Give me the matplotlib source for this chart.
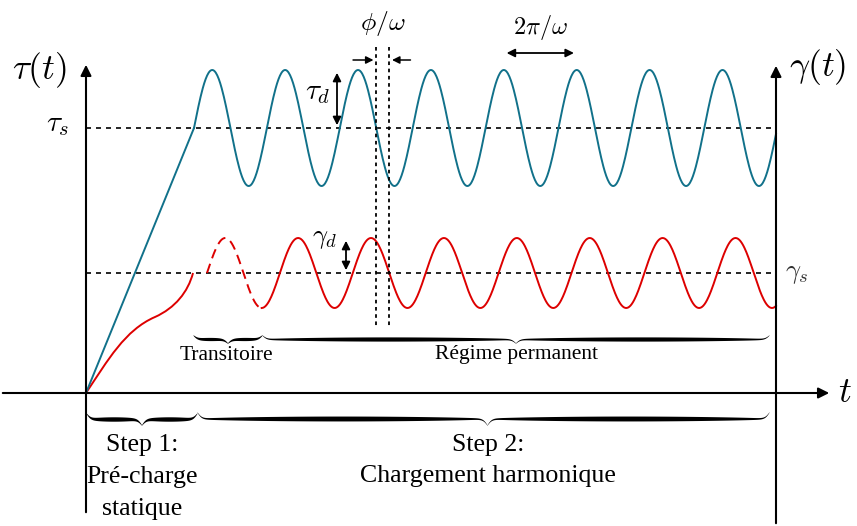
import numpy as np
import matplotlib.pyplot as plt
from matplotlib.path import Path
from matplotlib.patches import PathPatch

plt.rcParams["mathtext.fontset"] = "cm"

# --- schematic values (pixel frame, y down) ---
t_origin = 86          # time origin on the t axis
y_origin = 393
t_pre = 194            # end of static pre-charge
t_end = 776            # end of the drawing (right axis)
period = 72.9          # 2*pi/omega
lag = 13               # phi/omega
tau_s = 128
tau_d = 58
gamma_s = 273
gamma_d = 35

# gamma(t) during the static pre-charge (two cubic bezier pieces)
pre_ctrl_t = [86, 108, 125, 155, 175, 188, 193]
pre_ctrl_gamma = [393, 360, 330, 317, 308, 292, 273]

teal = "#11718a"
red = "#dd0000"
serif = "Liberation Serif"

fig = plt.figure(figsize=(8.57, 5.26), dpi=100)
ax = fig.add_axes([0, 0, 1, 1])
ax.set_xlim(0, 857)
ax.set_ylim(526, 0)
ax.axis("off")

# axes with arrows
arrow = dict(arrowstyle="-|>", color="black", lw=1.5, mutation_scale=16)
ax.annotate("", xy=(t_origin, 62), xytext=(t_origin, 515), arrowprops=arrow)
ax.annotate("", xy=(t_end, 63), xytext=(t_end, 526), arrowprops=arrow)
ax.annotate("", xy=(832, y_origin), xytext=(0, y_origin), arrowprops=arrow)

# static levels
ax.plot([t_origin, t_end], [tau_s, tau_s], color="black", lw=1.2, ls=(0, (3, 3)))
ax.plot([t_origin, t_end], [gamma_s, gamma_s], color="black", lw=1.2, ls=(0, (3, 3)))

# tau(t)
ax.plot([t_origin, t_pre], [y_origin, tau_s], color=teal, lw=1.4)
tt = np.linspace(t_pre, t_end, 800)
ax.plot(tt, tau_s - tau_d * np.sin(2 * np.pi * (tt - t_pre) / period), color=teal, lw=1.4)

# gamma(t)
codes = [Path.MOVETO] + [Path.CURVE4] * 6
ax.add_patch(PathPatch(Path(list(zip(pre_ctrl_t, pre_ctrl_gamma)), codes),
                       fc="none", ec=red, lw=1.4))
g0 = t_pre + lag
g1 = g0 + 0.75 * period
tg = np.linspace(g0, g1, 200)
ax.plot(tg, gamma_s - gamma_d * np.sin(2 * np.pi * (tg - g0) / period),
        color=red, lw=1.4, ls=(0, (5, 3)))
tg = np.linspace(g1, t_end, 800)
ax.plot(tg, gamma_s - gamma_d * np.sin(2 * np.pi * (tg - g0) / period), color=red, lw=1.4)

# phase lag marks
x_phi1 = t_pre + 2.5 * period
x_phi2 = x_phi1 + lag
for xv in [x_phi1, x_phi2]:
    ax.plot([xv, xv], [47, 328], color="black", lw=1.3, ls=(0, (2, 2)))
small = dict(arrowstyle="-|>", color="black", lw=1.1, mutation_scale=11)
ax.annotate("", xy=(x_phi1, 60), xytext=(x_phi1 - 26, 60), arrowprops=small)
ax.annotate("", xy=(x_phi2, 60), xytext=(x_phi2 + 24, 60), arrowprops=small)
ax.text((x_phi1 + x_phi2) / 2, 24, r"$\phi/\omega$", fontsize=18.5, ha="center", va="center")

# period arrow
p1 = t_pre + 0.25 * period + 4 * period
both = dict(arrowstyle="<|-|>", color="black", lw=1.3, mutation_scale=12)
ax.annotate("", xy=(p1 + period, 53), xytext=(p1, 53), arrowprops=both)
ax.text(p1 + period / 2, 27, r"$2\pi/\omega$", fontsize=17.5, ha="center", va="center")

# amplitudes
ax.annotate("", xy=(337, tau_s - tau_d), xytext=(337, tau_s), arrowprops=both)
ax.text(318, 92, r"$\tau_d$", fontsize=21, ha="center", va="center")
ax.annotate("", xy=(346, gamma_s - gamma_d), xytext=(346, gamma_s), arrowprops=both)
ax.text(325, 238, r"$\gamma_d$", fontsize=19, ha="center", va="center")

# axis labels
ax.text(39, 70, r"$\tau(t)$", fontsize=25.5, ha="center", va="center")
ax.text(58, 124, r"$\tau_s$", fontsize=21, ha="center", va="center")
ax.text(818, 67, r"$\gamma(t)$", fontsize=25.5, ha="center", va="center")
ax.text(797, 273, r"$\gamma_s$", fontsize=19, ha="center", va="center", color="#333333")
ax.text(845, 392, r"$t$", fontsize=25.5, ha="center", va="center")


def brace(x0, x1, y, h, xm=None, th=3.0):
    # curly brace opening upward, tip pointing down
    if xm is None:
        xm = (x0 + x1) / 2
    beta = 0.45
    xs, ys, ws = [], [], []
    for a, b in [(x0, xm), (x1, xm)]:
        u = np.linspace(0, 1, 300)
        w = abs(b - a)
        d = u * w
        yy = 1 / (1 + np.exp(-beta * d)) + 1 / (1 + np.exp(-beta * (d - w))) - 0.5
        xx = a + np.sign(b - a) * d
        if a > b:
            xx, yy, u = xx[::-1], yy[::-1], u[::-1]
        xs.append(xx)
        ys.append(yy)
        ws.append(0.4 + th * np.sin(np.pi * u) ** 0.6)
    xx = np.concatenate(xs)
    yy = y + h * np.concatenate(ys)
    ww = np.concatenate(ws)
    ax.fill_between(xx, yy - ww / 2, yy + ww / 2, color="black", lw=0)


brace(193, 262, 335, 8, th=2.8)
brace(262, 769, 335, 8, th=3.8)
brace(t_origin, 197, 413, 12, th=4.0)
brace(197, 769, 412, 13, xm=487, th=4.5)

ax.text(226, 355, "Transitoire", fontsize=15.5, family=serif, ha="center", va="center")
ax.text(517, 355, "Régime permanent", fontsize=15.5, family=serif, ha="center", va="center")
ax.text(142, 445, "Step 1:", fontsize=18.6, family=serif, ha="center", va="center")
ax.text(142, 477, "Pré-charge", fontsize=18.6, family=serif, ha="center", va="center")
ax.text(142, 509, "statique", fontsize=18.6, family=serif, ha="center", va="center")
ax.text(488, 445, "Step 2:", fontsize=18.6, family=serif, ha="center", va="center")
ax.text(488, 476, "Chargement harmonique", fontsize=18.6, family=serif, ha="center", va="center")

plt.savefig("out.png", dpi=100)
